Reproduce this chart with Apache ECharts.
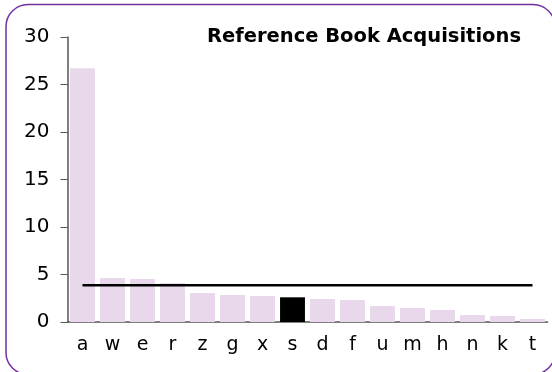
<!DOCTYPE html>
<html>
<head>
<meta charset="utf-8">
<script src="https://cdn.jsdelivr.net/npm/echarts@6/dist/echarts.min.js"></script>
<style>
  html, body { margin: 0; padding: 0; background: #fff; }
  #chart { width: 552px; height: 372px; }
</style>
</head>
<body>
<div id="chart"></div>
<script>
// Acquisitions per reference category, sorted descending
const categories = ['a', 'w', 'e', 'r', 'z', 'g', 'x', 's', 'd', 'f', 'u', 'm', 'h', 'n', 'k', 't'];
const acquisitions = [26.7, 4.63, 4.53, 4.1, 3.05, 2.84, 2.74, 2.6, 2.42, 2.32, 1.68, 1.47, 1.26, 0.74, 0.63, 0.32];
const highlighted = 's';
const averageValue = 3.87;
const yTicks = [0, 5, 10, 15, 20, 25, 30];

const FONT = 'DejaVu Sans';

const barData = categories.map((c, i) => ({
  value: acquisitions[i],
  itemStyle: { color: c === highlighted ? '#000000' : '#E9D7EB' }
}));
const avgData = categories.map(() => averageValue);

const chart = echarts.init(document.getElementById('chart'), null, { renderer: 'canvas' });
chart.setOption({
  animation: false,
  backgroundColor: '#ffffff',
  title: {
    text: 'Reference Book Acquisitions',
    right: 26,
    top: 22,
    textStyle: { fontFamily: FONT, fontWeight: 'bold', fontSize: 19.5, color: '#000' }
  },
  graphic: [{
    type: 'rect',
    shape: { x: 6, y: 4.5, width: 549, height: 370, r: 22 },
    style: { fill: null, stroke: '#7030A0', lineWidth: 1.5 },
    silent: true
  }],
  grid: { left: 67.5, right: 4.5, top: 37, bottom: 50 },
  xAxis: {
    type: 'category',
    data: categories,
    axisLine: { lineStyle: { color: '#555', width: 1.5 } },
    axisTick: { show: false },
    axisLabel: { fontFamily: FONT, fontSize: 19, color: '#000', margin: 14 }
  },
  yAxis: {
    type: 'value',
    min: yTicks[0],
    max: yTicks[yTicks.length - 1],
    interval: 5,
    splitLine: { show: false },
    axisLine: { show: true, lineStyle: { color: '#555', width: 1.5 } },
    axisTick: { show: true, length: 7, lineStyle: { color: '#555' } },
    axisLabel: { fontFamily: FONT, fontSize: 20, color: '#000', margin: 18 }
  },
  series: [{
    type: 'bar',
    data: barData,
    barCategoryGap: '17%'
  }, {
    type: 'line',
    data: avgData,
    symbol: 'none',
    lineStyle: { color: '#000', width: 2.7 },
    z: 5
  }]
});
</script>
</body>
</html>
